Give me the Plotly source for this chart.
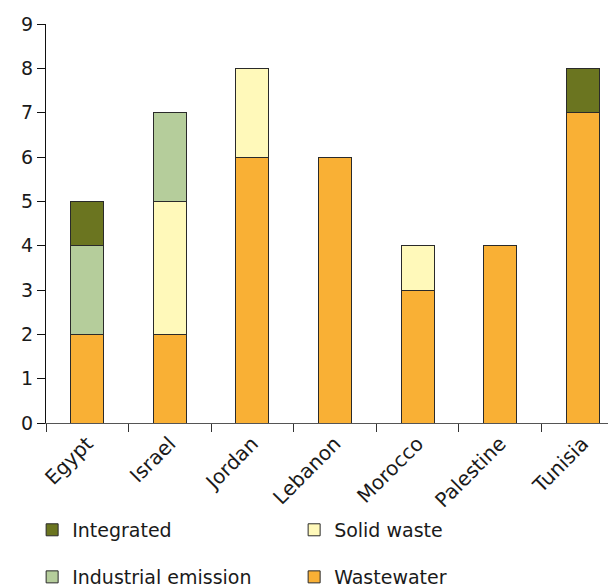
import plotly.graph_objects as go

countries = ["Egypt", "Israel", "Jordan", "Lebanon", "Morocco", "Palestine", "Tunisia"]
wastewater = [2, 2, 6, 6, 3, 4, 7]
solid_waste = [0, 3, 2, 0, 1, 0, 0]
industrial_emission = [2, 2, 0, 0, 0, 0, 0]
integrated = [1, 0, 0, 0, 0, 0, 1]
y_ticks = [0, 1, 2, 3, 4, 5, 6, 7, 8, 9]

FONT = "DejaVu Sans"

series = [
    ("Wastewater", wastewater, "#F9B035", "legend2"),
    ("Solid waste", solid_waste, "#FFF9BA", "legend"),
    ("Industrial emission", industrial_emission, "#B5CD9B", "legend2"),
    ("Integrated", integrated, "#6B7520", "legend"),
]

fig = go.Figure()
for name, vals, color, leg in series:
    fig.add_trace(go.Bar(
        x=countries,
        y=[v if v else None for v in vals],
        name=name,
        marker=dict(color=color, line=dict(color="#2a2a2a", width=1)),
        width=0.4,
        legend=leg,
    ))

leg_common = dict(
    orientation="h", x=-0.024, xanchor="left", yanchor="middle",
    traceorder="reversed", entrywidth=217, entrywidthmode="pixels",
    itemwidth=30,
    font=dict(family=FONT, size=19, color="#1a1a1a"), bgcolor="rgba(0,0,0,0)",
)

fig.update_layout(
    barmode="stack",
    width=616, height=587,
    margin=dict(l=38, r=0, t=16, b=172, autoexpand=False),
    paper_bgcolor="white", plot_bgcolor="white",
    font=dict(family=FONT, size=19, color="#1a1a1a"),
    xaxis=dict(
        range=[-0.5, 6.5],
        tickangle=-45,
        tickson="boundaries",
        ticks="outside", ticklen=8, tickcolor="#333333",
        showline=True, linecolor="#555555", linewidth=1,
        showgrid=False, automargin=False,
        tickfont=dict(family=FONT, size=20),
    ),
    yaxis=dict(
        range=[0, 9],
        tickvals=y_ticks,
        ticks="outside", ticklen=8, tickcolor="#111111",
        showline=True, linecolor="#111111", linewidth=1,
        showgrid=False, zeroline=False, automargin=False,
        tickfont=dict(family=FONT, size=19),
    ),
    legend=dict(y=-0.268, **leg_common),
    legend2=dict(y=-0.386, **leg_common),
)

fig.write_html("out.html")
